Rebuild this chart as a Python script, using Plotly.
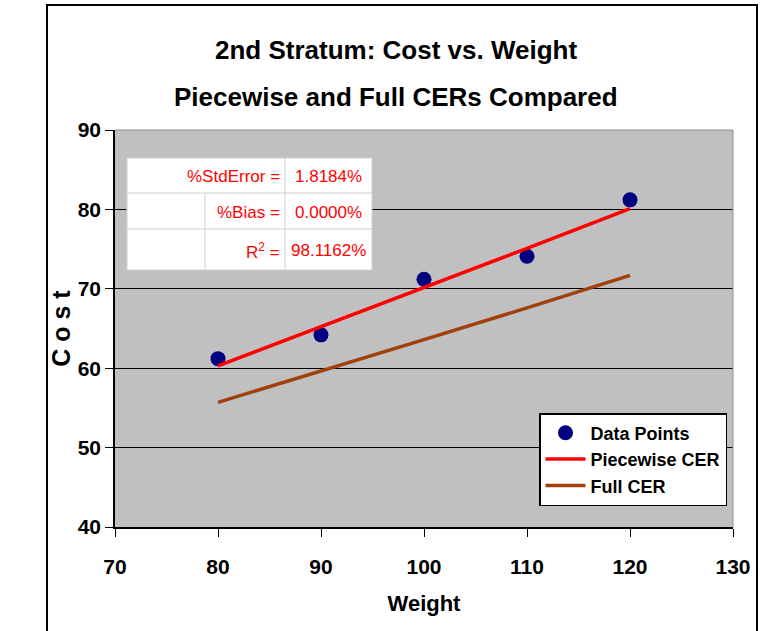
import plotly.graph_objects as go

weight = [80, 90, 100, 110, 120]
cost = [61.2, 64.2, 71.2, 74.1, 81.2]
piecewise_cer = [60.3, 65.2, 70.2, 75.1, 80.1]
full_cer = [55.7, 59.6, 63.6, 67.6, 71.7]

title_lines = ["2nd Stratum: Cost vs. Weight", "Piecewise and Full CERs Compared"]
stat_labels = ["%StdError =", "%Bias =", "R<sup>2</sup> ="]
stat_values = ["1.8184%", "0.0000%", "98.1162%"]

x_ticks = [70, 80, 90, 100, 110, 120, 130]
y_ticks = [40, 50, 60, 70, 80, 90]

W, H = 766, 631
L, R, T, B = 115, 733, 130, 527
FONT = "Liberation Sans, Arial, sans-serif"


def px(X):
    return (X - L) / (R - L)


def py(Y):
    return (B - Y) / (B - T)


fig = go.Figure()
fig.add_trace(go.Scatter(x=weight, y=cost, mode="markers", name="Data Points",
                         marker=dict(color="#000080", size=15, line=dict(width=0))))
fig.add_trace(go.Scatter(x=weight, y=piecewise_cer, mode="lines", name="Piecewise CER",
                         line=dict(color="#FF0000", width=3.5)))
fig.add_trace(go.Scatter(x=weight, y=full_cer, mode="lines", name="Full CER",
                         line=dict(color="#A0400A", width=3.5)))

shapes = []
# outer frame
shapes.append(dict(type="rect", xref="paper", yref="paper",
                   x0=px(47), x1=px(757), y0=py(5), y1=py(650),
                   line=dict(color="black", width=2), fillcolor="rgba(0,0,0,0)", layer="below"))
# top and right gray border of plot area
shapes.append(dict(type="line", xref="paper", yref="paper", x0=0, x1=1, y0=1, y1=1,
                   line=dict(color="#909090", width=1)))
shapes.append(dict(type="line", xref="paper", yref="paper", x0=1, x1=1, y0=0, y1=1,
                   line=dict(color="#909090", width=1)))

# stats table
tx = [127, 205, 285, 372]
ty = [158, 193, 229, 270]
shapes.append(dict(type="rect", xref="paper", yref="paper",
                   x0=px(tx[0]), x1=px(tx[3]), y0=py(ty[0]), y1=py(ty[3]),
                   fillcolor="white", line=dict(color="#d0d0d0", width=1)))
for yy in ty[1:3]:
    shapes.append(dict(type="line", xref="paper", yref="paper",
                       x0=px(tx[0]), x1=px(tx[3]), y0=py(yy), y1=py(yy),
                       line=dict(color="#d0d0d0", width=1)))
shapes.append(dict(type="line", xref="paper", yref="paper",
                   x0=px(tx[2]), x1=px(tx[2]), y0=py(ty[0]), y1=py(ty[3]),
                   line=dict(color="#d0d0d0", width=1)))
shapes.append(dict(type="line", xref="paper", yref="paper",
                   x0=px(tx[1]), x1=px(tx[1]), y0=py(ty[1]), y1=py(ty[3]),
                   line=dict(color="#d0d0d0", width=1)))

annotations = []
for i, (lab, val) in enumerate(zip(stat_labels, stat_values)):
    yc = py((ty[i] + ty[i + 1]) / 2 + 1)
    annotations.append(dict(xref="paper", yref="paper", x=px(tx[2] - 3), y=yc,
                            text=lab, showarrow=False, xanchor="right", yanchor="middle",
                            font=dict(family=FONT, size=17, color="#FF0000")))
    annotations.append(dict(xref="paper", yref="paper", x=px((tx[2] + tx[3]) / 2), y=yc,
                            text=val, showarrow=False, xanchor="center", yanchor="middle",
                            font=dict(family=FONT, size=17, color="#FF0000")))

# title lines
for txt, yy in zip(title_lines, [50, 97]):
    annotations.append(dict(xref="paper", yref="paper", x=px(396), y=py(yy),
                            text="<b>" + txt + "</b>", showarrow=False,
                            xanchor="center", yanchor="middle",
                            font=dict(family=FONT, size=26, color="black")))

fig.update_layout(
    width=W, height=H,
    margin=dict(l=L, r=W - R, t=T, b=H - B),
    paper_bgcolor="white",
    plot_bgcolor="#C0C0C0",
    xaxis=dict(range=[70, 130], tickvals=x_ticks, showgrid=False, zeroline=False,
               showline=True, linecolor="black", linewidth=1.5,
               ticks="outside", ticklen=8, tickcolor="black", ticklabelstandoff=12,
               tickfont=dict(family=FONT, size=21, color="black", weight="bold"),
               title=dict(text="<b>Weight</b>", font=dict(family=FONT, size=22, color="black"),
                          standoff=19)),
    yaxis=dict(range=[40, 90], tickvals=y_ticks, showgrid=True, gridcolor="black", gridwidth=1,
               zeroline=False, showline=True, linecolor="black", linewidth=1.5,
               ticks="outside", ticklen=8, tickcolor="black",
               tickfont=dict(family=FONT, size=21, color="black", weight="bold"),
               title=dict(text="<b>C o s t</b>", font=dict(family=FONT, size=25, color="black"),
                          standoff=0)),
    legend=dict(x=px(539), y=py(413), xanchor="left", yanchor="top",
                bgcolor="white", bordercolor="black", borderwidth=1.5,
                font=dict(family=FONT, size=18, color="black", weight="bold"),
                tracegroupgap=0, itemwidth=40),
    shapes=shapes,
    annotations=annotations,
    showlegend=True,
)

fig.write_html("out.html")
